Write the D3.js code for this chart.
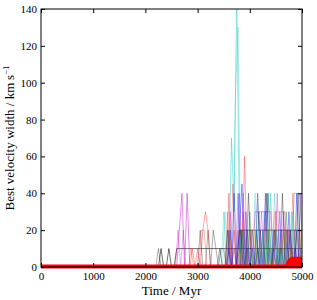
<!DOCTYPE html>
<html>
<head>
  <script src="https://d3js.org/d3.v7.min.js"></script>
  <style>
    body { margin: 0; background: #fff; }
    text { font-family: "Liberation Serif", "DejaVu Serif", serif; fill: #000; }
  </style>
</head>
<body>
  <svg id="chart" width="317" height="300"></svg>
  <script>
    // axis settings
    const xTicks = [0, 1000, 2000, 3000, 4000, 5000];
    const yTicks = [0, 20, 40, 60, 80, 100, 120, 140];

    // the thick red run along the bottom (time, width)
    const redTimes = [0, 4700, 4750, 4800, 5000];
    const redValues = [0.6, 0.6, 3.5, 4.8, 4.8];

    // the thin runs: a start time, a 50 Myr step, and one width per step
    const runStep = 50;
    const runColors = ["#000000", "#000000", "#000000", "#bf00bf", "#bf00bf", "#ff0000", "#ff0000", "#00bfbf",
      "#00bfbf", "#0000ff", "#0000ff", "#008000", "#bfbf00", "#bf00bf", "#00bfbf", "#000000"];
    const runOpacity = [0.7, 0.7, 0.4, 0.55, 0.55, 0.45, 0.35, 0.5, 0.4, 0.5, 0.4, 0.45, 0.5, 0.4, 0.35, 0.45];
    const runStart = [2200, 2200, 2200, 2200, 2200, 2200, 2225, 2200, 2225, 2200, 2225, 2200, 2200, 2225, 2200, 2225];
    const runValues = [
      [0,0,10,0,0,10,0,0,10,10, 10,10,10,10,10,10,10,10,10,10, 10,10,10,10,10,10,10,10,10,10, 10,10,10,10,10,10,10,10,10,10, 10,10,10,10,10,10,10,10,10,10, 10,10,10,10,10,10,10],
      [0,0,0,0,0,0,0,0,0,0, 0,0,0,0,0,0,0,0,0,0, 0,0,0,0,0,0,0,0,0,0, 0,0,20,20,20,20,20,20,20,20, 20,20,20,20,20,20,20,20,20,20, 20,20,20,20,20,20,20],
      [0,10,0,0,0,0,0,0,0,0, 0,0,0,0,0,0,0,20,0,0, 20,0,20,10,0,10,10,0,20,0, 10,0,0,20,0,10,0,20,0,10, 0,20,0,40,10,0,20,0,10,0, 20,0,10,0,20,0,10],
      [0,0,0,0,0,0,0,0,0,20, 40,0,40,0,0,0,0,0,0,0, 0,0,0,0,0,0,0,0,0,0, 0,0,40,0,20,0,0,0,0,40, 0,0,0,0,0,20,0,0,0,30, 0,0,0,20,0,0,0],
      [0,0,0,0,0,0,0,0,0,0, 0,0,0,0,0,0,0,0,0,0, 0,0,0,0,0,0,0,0,0,0, 0,0,0,0,0,0,0,0,30,30, 30,30,30,30,30,0,0,0,0,0, 0,0,0,0,0,0,0],
      [0,0,0,0,0,0,0,0,0,0, 0,0,0,0,10,0,10,0,20,30, 20,0,0,0,0,0,0,0,40,0, 20,0,0,0,60,0,20,0,0,0, 0,0,30,0,10,0,30,0,0,20, 0,20,0,10,0,0,0],
      [0,0,0,0,0,0,0,0,0,0, 0,0,0,10,0,0,0,20,20,0, 0,0,0,0,0,0,0,30,0,45, 0,20,0,30,0,0,0,0,20,0, 10,0,0,0,0,30,30,30,30,30, 0,0,40,0,0,20],
      [0,0,0,0,0,0,0,0,0,0, 0,0,0,0,0,0,0,0,0,0, 0,0,0,0,0,0,0,0,0,70, 30,150,20,0,0,0,0,0,0,40, 0,20,0,0,40,0,0,20,0,0, 0,0,0,0,20,0,0],
      [0,0,0,0,0,0,0,0,0,0, 0,0,0,0,0,0,0,0,0,0, 0,0,0,0,0,0,30,0,20,0, 95,130,0,20,0,10,0,0,20,0, 0,30,0,20,0,40,0,10,0,20, 0,0,30,0,10,0],
      [0,0,0,0,0,0,0,0,0,0, 0,0,0,0,0,0,0,0,0,0, 0,0,0,0,0,0,0,0,10,0, 40,0,20,45,0,20,0,10,0,0, 20,0,40,0,0,10,0,0,20,0, 0,30,0,0,40,0,20],
      [0,0,0,0,0,0,0,0,0,0, 0,0,0,0,0,0,0,0,0,0, 0,0,0,0,0,0,0,0,20,0, 0,40,0,0,30,0,0,0,20,0, 0,0,0,10,0,0,0,30,0,0, 20,0,0,10,0,40],
      [0,0,0,0,0,0,0,0,0,0, 0,0,0,0,0,0,0,0,0,0, 0,0,0,0,0,0,0,0,0,0, 0,0,0,20,0,0,30,0,0,10, 0,0,0,20,0,0,0,10,0,0, 30,0,0,40,40,40,20],
      [0,0,0,0,0,0,0,0,0,0, 0,0,0,0,0,0,0,0,0,0, 0,0,0,0,0,0,0,0,0,0, 0,0,10,0,0,0,0,0,20,0, 0,0,0,0,10,0,0,0,0,20, 0,0,10,0,0,20,0],
      [0,0,0,0,0,0,0,0,20,0, 20,0,0,0,0,0,0,0,0,0, 0,0,0,0,0,0,0,0,30,0, 0,0,0,40,0,0,20,0,0,0, 30,0,0,0,0,0,40,0,0,0, 0,20,0,0,0,40],
      [0,0,0,0,0,0,0,0,0,0, 0,0,0,0,0,0,0,0,0,0, 0,0,0,0,0,0,30,0,0,0, 0,0,0,0,20,0,0,0,40,0, 0,20,0,40,0,0,20,0,0,10, 0,0,30,0,0,0,0],
      [0,0,0,0,0,0,0,0,0,0, 0,0,0,0,0,0,0,0,0,0, 0,0,0,0,10,0,0,20,0,0, 0,0,20,0,0,40,0,0,0,30, 0,0,40,0,0,20,0,0,40,0, 0,20,0,0,40,0]
    ];

    const svg = d3.select("#chart");
    const mLeft = 41, mRight = 302, mTop = 9, mBottom = 267;

    const x = d3.scaleLinear().domain([0, 5000]).range([mLeft, mRight]);
    const y = d3.scaleLinear().domain([0, 140]).range([mBottom, mTop]);

    svg.append("clipPath").attr("id", "plotClip")
      .append("rect")
      .attr("x", mLeft).attr("y", mTop)
      .attr("width", mRight - mLeft).attr("height", mBottom - mTop + 2);

    const plot = svg.append("g").attr("clip-path", "url(#plotClip)");

    const line = d3.line().x(d => x(d[0])).y(d => y(d[1]));

    // thin runs
    runValues.forEach((vals, i) => {
      const pts = vals.map((v, j) => [runStart[i] + j * runStep, v]);
      plot.append("path")
        .attr("d", line(pts))
        .attr("fill", "none")
        .attr("stroke", runColors[i])
        .attr("stroke-opacity", runOpacity[i])
        .attr("stroke-width", 0.8);
    });

    // thick red run on top
    const redPts = redTimes.map((t, i) => [t, redValues[i]]);
    plot.append("path")
      .attr("d", d3.area().x(d => x(d[0])).y0(y(0)).y1(d => y(d[1]))(redPts))
      .attr("fill", "#ff0000")
      .attr("stroke", "#ff0000")
      .attr("stroke-width", 3);

    // axes, ticks pointing in on all four sides
    const fmt = d3.format("d");
    const bx = d3.axisBottom(x).tickValues(xTicks).tickFormat(fmt).tickSizeInner(-4).tickSizeOuter(0).tickPadding(5);
    const tx = d3.axisTop(x).tickValues(xTicks).tickSizeInner(-4).tickSizeOuter(0).tickFormat("");
    const ly = d3.axisLeft(y).tickValues(yTicks).tickFormat(fmt).tickSizeInner(-4).tickSizeOuter(0).tickPadding(4);
    const ry = d3.axisRight(y).tickValues(yTicks).tickSizeInner(-4).tickSizeOuter(0).tickFormat("");

    svg.append("g").attr("transform", `translate(0,${mBottom})`).call(bx);
    svg.append("g").attr("transform", `translate(0,${mTop})`).call(tx);
    svg.append("g").attr("transform", `translate(${mLeft},0)`).call(ly);
    svg.append("g").attr("transform", `translate(${mRight},0)`).call(ry);

    svg.selectAll(".domain").remove();
    svg.selectAll(".tick line").attr("stroke", "#000");
    svg.selectAll(".tick text").attr("font-size", 11).attr("font-family", "Liberation Serif");

    // frame
    svg.append("rect")
      .attr("x", mLeft).attr("y", mTop)
      .attr("width", mRight - mLeft).attr("height", mBottom - mTop)
      .attr("fill", "none").attr("stroke", "#000").attr("stroke-width", 1);

    // labels
    svg.append("text")
      .attr("x", (mLeft + mRight) / 2).attr("y", 295)
      .attr("text-anchor", "middle").attr("font-size", 13)
      .text("Time / Myr");

    const yl = svg.append("text")
      .attr("transform", `translate(14,${(mTop + mBottom) / 2}) rotate(-90)`)
      .attr("text-anchor", "middle").attr("font-size", 13);
    yl.append("tspan").text("Best velocity width / km\u2009s");
    yl.append("tspan").attr("font-size", 9).attr("dy", -5).text("\u22121");
  </script>
</body>
</html>
